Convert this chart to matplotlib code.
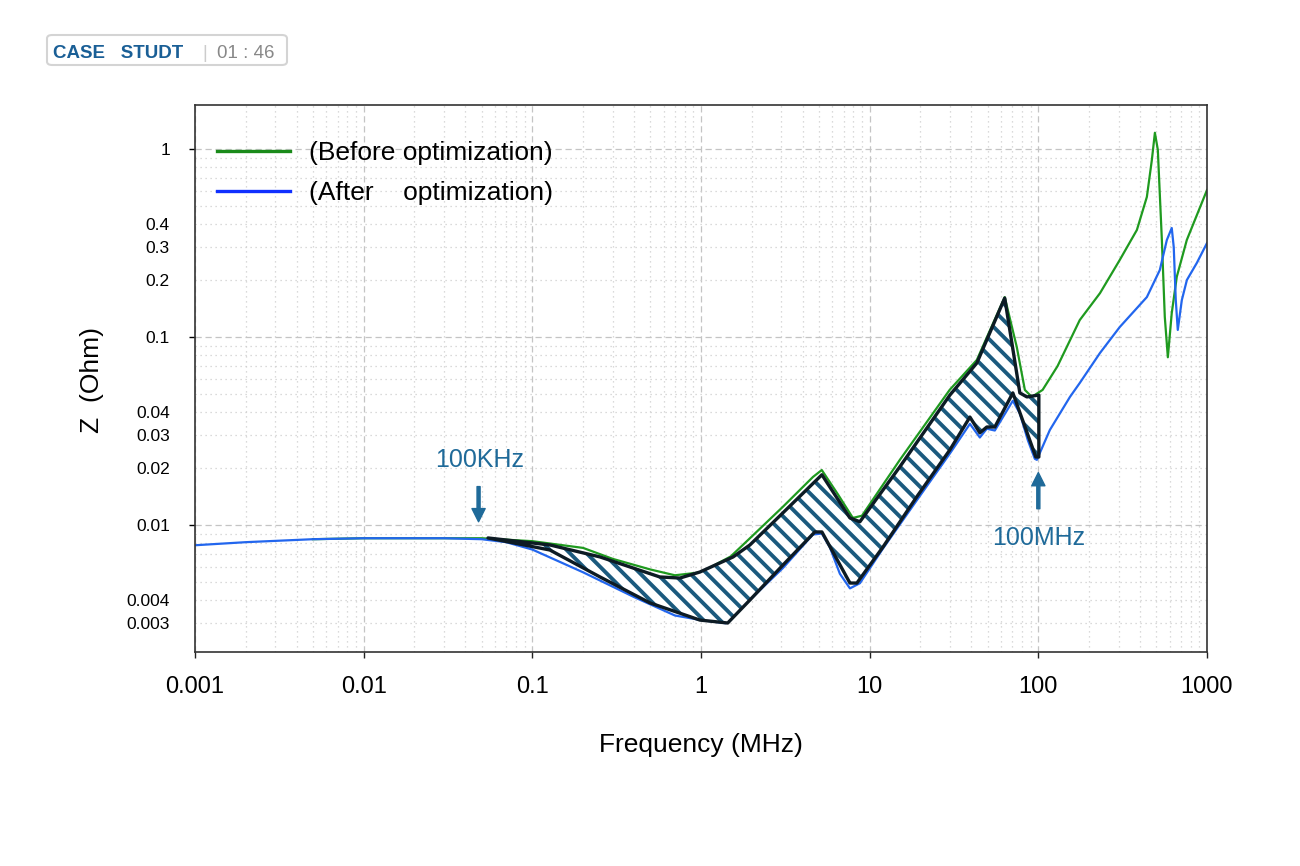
import matplotlib
matplotlib.use('Agg')
import matplotlib.pyplot as plt
from matplotlib.patches import FancyBboxPatch
from matplotlib.lines import Line2D

# ---------------- data (frequency in MHz, impedance in Ohm) ----------------
freq_before = [0.005, 0.01, 0.02, 0.03, 0.05, 0.1, 0.2, 0.3, 0.5, 0.7, 1.0, 1.5, 1.95,
               3.06, 4.61, 5.2, 6.5, 7.95, 9.0, 15.1, 29.8, 43.2, 63.2, 74.5, 83.2,
               91.5, 106, 130, 176, 232, 304, 384, 440, 471, 491, 511, 540, 562,
               586, 618, 662, 759, 1000]
z_before = [0.0084, 0.0085, 0.0085, 0.0085, 0.0085, 0.0082, 0.00755, 0.0066, 0.0058,
            0.0054, 0.0056, 0.0068, 0.0085, 0.0125, 0.0180, 0.0196, 0.0145, 0.0109,
            0.0112, 0.0222, 0.0523, 0.0755, 0.163, 0.0885, 0.0523, 0.048, 0.0523,
            0.070, 0.123, 0.171, 0.257, 0.371, 0.556, 0.874, 1.22, 0.99, 0.328,
            0.128, 0.078, 0.134, 0.209, 0.328, 0.605]

freq_after = [0.001, 0.002, 0.005, 0.01, 0.02, 0.03, 0.05, 0.07, 0.1, 0.2, 0.4, 0.7,
              1.0, 1.4, 1.95, 3.06, 4.61, 5.21, 5.81, 6.66, 7.64, 8.75, 12.0, 19.0,
              29.9, 39.3, 45.0, 49.5, 55.2, 70.6, 77.7, 86.7, 95.3, 98, 117, 154,
              176, 232, 304, 440, 525, 578, 618, 635, 653, 671, 709, 760, 871, 1000]
z_after = [0.0078, 0.0081, 0.0084, 0.0085, 0.0085, 0.0085, 0.0084, 0.0081, 0.0074,
           0.0056, 0.00414, 0.0033, 0.00312, 0.0030, 0.0040, 0.0059, 0.0089, 0.0090,
           0.0076, 0.0055, 0.0046, 0.0049, 0.0075, 0.0135, 0.0240, 0.0345, 0.0292,
           0.0325, 0.0318, 0.0458, 0.0392, 0.0282, 0.0225, 0.0222, 0.0320, 0.0480,
           0.0569, 0.0822, 0.113, 0.163, 0.227, 0.328, 0.380, 0.301, 0.157, 0.109,
           0.157, 0.201, 0.248, 0.316]

# hatched "improvement" band outline
band_upper_freq = [0.0546, 0.127, 0.252, 0.570, 0.750, 0.985, 1.55, 1.95, 3.06, 5.21,
                   7.64, 8.75, 15.1, 29.9, 43.2, 63.2, 77.7, 85.5, 100.7]
band_upper_z = [0.00853, 0.00783, 0.00676, 0.00529, 0.00522, 0.00562, 0.00676, 0.00783,
                0.0116, 0.0185, 0.0109, 0.0104, 0.0204, 0.0491, 0.0727, 0.161, 0.0504,
                0.048, 0.0491]
band_lower_freq = [0.0546, 0.127, 0.252, 0.498, 0.985, 1.44, 1.95, 3.06, 4.73, 5.21,
                   7.64, 8.40, 12.0, 19.0, 29.9, 39.3, 45.0, 49.5, 55.2, 70.6, 96.6, 100.7]
band_lower_z = [0.00853, 0.00736, 0.00529, 0.00385, 0.00312, 0.00301, 0.00399, 0.00612,
                0.00918, 0.00918, 0.00491, 0.00491, 0.00764, 0.0141, 0.0251, 0.0375,
                0.0309, 0.0332, 0.0332, 0.0504, 0.0230, 0.0230]

x_ticks = [0.001, 0.01, 0.1, 1, 10, 100, 1000]
x_tick_labels = ['0.001', '0.01', '0.1', '1', '10', '100', '1000']
y_major = [0.01, 0.1, 1]
y_major_labels = ['0.01', '0.1', '1']
y_minor_labeled = {0.003: '0.003', 0.004: '0.004', 0.02: '0.02', 0.03: '0.03',
                   0.04: '0.04', 0.2: '0.2', 0.3: '0.3', 0.4: '0.4'}

legend_labels = ['(Before optimization)', '(After    optimization)']

# ---------------- styling ----------------
plt.rcParams['font.family'] = ['Liberation Sans', 'DejaVu Sans']
plt.rcParams['hatch.linewidth'] = 2.8

GREEN = '#1f9a1f'
BLUE = '#2266ee'
ANNO = '#1f6a99'

fig = plt.figure(figsize=(13, 8.66), dpi=100)
ax = fig.add_axes([195 / 1300, 1 - 652 / 866, (1207 - 195) / 1300, (652 - 105) / 866])
ax.set_xscale('log')
ax.set_yscale('log')

ax.plot(freq_before, z_before, color=GREEN, lw=1.6, zorder=2)
ax.plot(freq_after, z_after, color=BLUE, lw=1.6, zorder=2.1)

poly_f = band_upper_freq + band_lower_freq[::-1]
poly_z = band_upper_z + band_lower_z[::-1]
ax.fill(poly_f, poly_z, facecolor='white', edgecolor='#1b5a7e', hatch='\\\\',
        linewidth=0, zorder=3)
ax.fill(poly_f, poly_z, facecolor='none', edgecolor='#0d1b24', linewidth=2.4,
        zorder=4, joinstyle='round')

# annotations
arrow_kw = dict(color=ANNO, width=2.2, headwidth=9.5, headlength=9.5, shrink=0)
ax.annotate('', xy=(0.048, 0.0104), xytext=(0.048, 0.0160), arrowprops=arrow_kw, zorder=5)
ax.text(0.0489, 0.0222, '100KHz', ha='center', va='center', fontsize=18, color=ANNO)
ax.annotate('', xy=(100, 0.0190), xytext=(100, 0.0122), arrowprops=arrow_kw, zorder=5)
ax.text(100, 0.0085, '100MHz', ha='center', va='center', fontsize=18, color=ANNO)

# axes limits / ticks
ax.set_xlim(0.001, 1000)
ax.set_xticks(x_ticks, labels=x_tick_labels)
x_minor = [k * 10.0 ** e for e in range(-3, 3) for k in range(2, 10)]
ax.set_xticks(x_minor, minor=True)
ax.set_xticklabels([''] * len(x_minor), minor=True)

ylo, yhi = 0.00211, 1.714
y_minor = [round(k * 10.0 ** e, 6) for e in range(-3, 1) for k in range(2, 10)]
y_minor = [v for v in y_minor if ylo < v < yhi]
ax.set_yticks(y_major, labels=y_major_labels)
ax.set_yticks(y_minor, labels=[y_minor_labeled.get(v, '') for v in y_minor], minor=True)
ax.set_xlim(0.001, 1000)
ax.set_ylim(ylo, yhi)

ax.tick_params(axis='x', which='major', direction='out', length=4, width=1,
               labelsize=17, pad=13, colors='#222222', labelcolor='black')
ax.tick_params(axis='x', which='minor', length=0)
ax.tick_params(axis='y', which='major', direction='out', length=4, width=1,
               labelsize=12.5, pad=14, labelcolor='black')
ax.tick_params(axis='y', which='minor', length=0, labelsize=12.5, pad=18)

ax.grid(which='major', color='#c4c4c4', linestyle=(0, (5, 3)), linewidth=0.9, zorder=0)
ax.grid(which='minor', color='#cfcfcf', linestyle=(0, (1, 3)), linewidth=0.9, zorder=0)
ax.set_axisbelow(True)
for s in ax.spines.values():
    s.set_color('#333333')
    s.set_linewidth(1.2)

ax.set_xlabel('Frequency (MHz)', fontsize=19)
ax.xaxis.label.set_va('center')
ax.xaxis.set_label_coords(0.5, -(745 - 652) / 547)
ax.set_ylabel('Z  (Ohm)', fontsize=19)
ax.yaxis.label.set_va('center')
ax.yaxis.set_label_coords(-(195 - 92) / 1012, 0.497)

handles = [Line2D([], [], color='#1a8a1a', lw=2.4), Line2D([], [], color='#1030ff', lw=2.4)]
ax.legend(handles, legend_labels, loc='upper left',
          bbox_to_anchor=((217 - 195) / 1012, 1 - (141 - 105) / 547),
          frameon=False, fontsize=19, handlelength=2.75, handletextpad=0.75,
          labelspacing=0.62, borderpad=0, borderaxespad=0)

# top-left badge
fig.patches.append(FancyBboxPatch((47 / 1300, 1 - 65 / 866), 240 / 1300, 30 / 866,
                                  boxstyle='round,pad=0,rounding_size=0.004',
                                  transform=fig.transFigure, facecolor='white',
                                  edgecolor='#d4d4d4', linewidth=1.5))
fig.text(53 / 1300, 1 - 58.5 / 866, 'CASE   STUDT', fontsize=13.5, fontweight='bold',
         color='#1a5f96', va='baseline', ha='left')
fig.text(205 / 1300, 1 - 58.5 / 866, '|', fontsize=13.5, color='#cccccc', va='baseline', ha='center')
fig.text(217 / 1300, 1 - 58.5 / 866, '01 : 46', fontsize=13.5, color='#888888', va='baseline', ha='left')

fig.savefig('out.png', dpi=100, facecolor='white')
